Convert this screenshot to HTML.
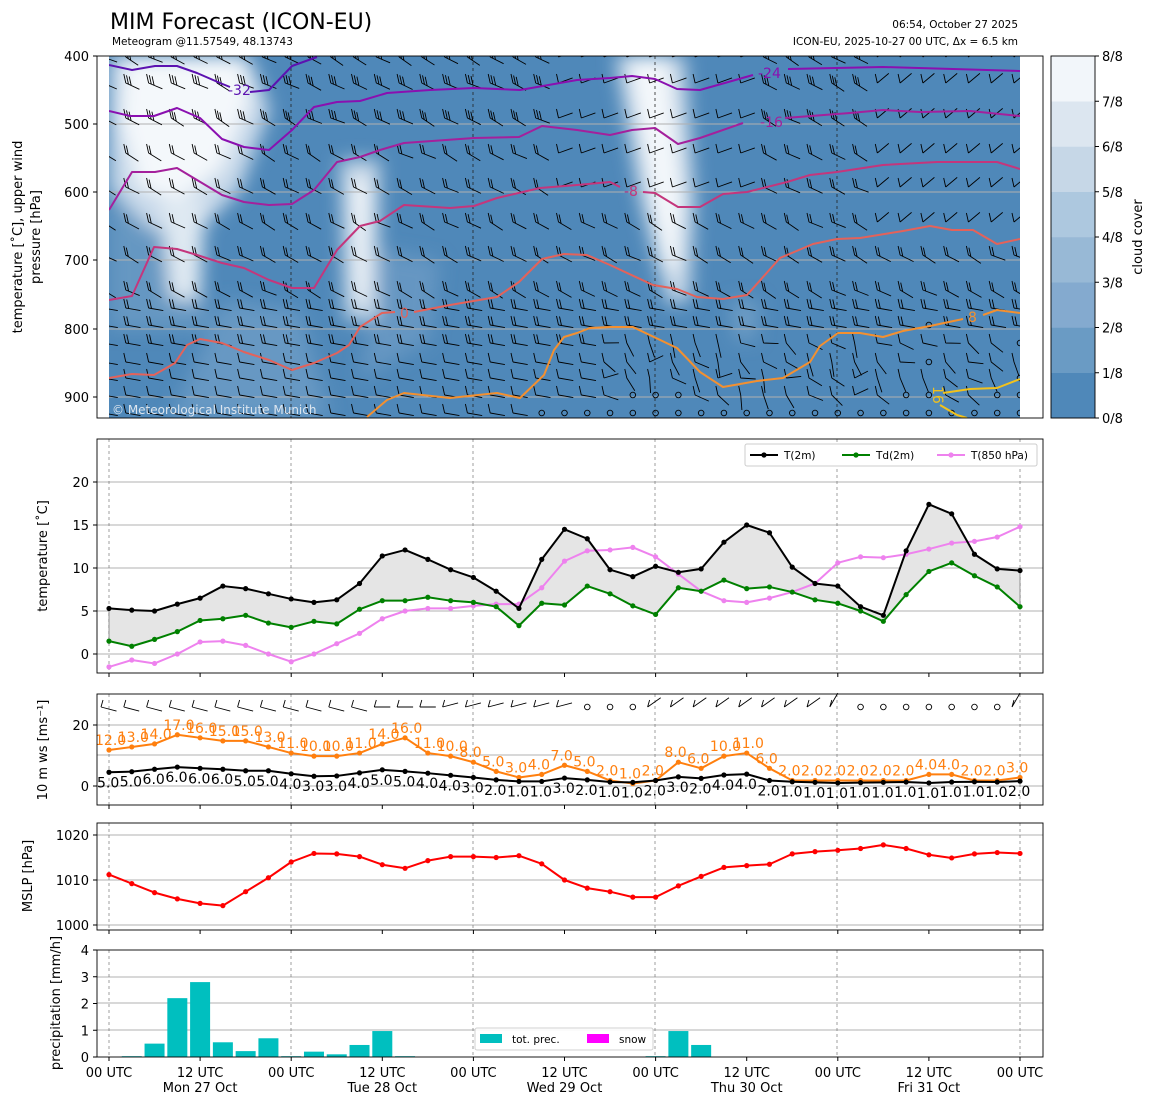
<!DOCTYPE html>
<html><head><meta charset="utf-8"><style>
html,body{margin:0;padding:0;background:#fff}
svg{display:block;font-family:"DejaVu Sans","Liberation Sans",sans-serif}
</style></head><body>
<svg id="s" width="1155" height="1105" viewBox="0 0 1155 1105" xmlns="http://www.w3.org/2000/svg">
<defs>
<filter id="bl" x="-50%" y="-50%" width="200%" height="200%"><feGaussianBlur stdDeviation="9"/></filter>
<clipPath id="cp"><rect x="109" y="56" width="911" height="362"/></clipPath>
</defs>
<g id="g"></g>
</svg>
<script>
(function(){
const NS="http://www.w3.org/2000/svg";
const G=document.getElementById('g');
function el(t,a,txt,par){const e=document.createElementNS(NS,t);for(const k in a)e.setAttribute(k,a[k]);if(txt!==undefined)e.textContent=txt;(par||G).appendChild(e);return e;}
const X=i=>109+i*22.775;
const L=0.9;
function pl(pts,col,w,par){el('polyline',{points:pts.map(p=>p.join(',')).join(' '),fill:'none',stroke:col,'stroke-width':w,'stroke-linejoin':'round'},undefined,par);}
function txt(x,y,s,o){o=o||{};const a={x:x,y:y,'font-size':o.fs||13,fill:o.c||'#000','text-anchor':o.a||'start'};if(o.tr)a.transform=o.tr;return el('text',a,s,o.par);}

txt(110,29,'MIM Forecast (ICON-EU)',{fs:22});
txt(112,45,'Meteogram @11.57549, 48.13743',{fs:10.5});
txt(1018,28,'06:54, October 27 2025',{fs:10.5,a:'end'});
txt(1018,45,'ICON-EU, 2025-10-27 00 UTC, Δx = 6.5 km',{fs:10.5,a:'end'});

const tp=el('g',{'clip-path':'url(#cp)'});
el('rect',{x:109,y:56,width:911,height:362,fill:'#4f88b9'},undefined,tp);
const cl=el('g',{filter:'url(#bl)'},undefined,tp);
el('polygon',{points:'225,300 300,310 330,418 170,418',fill:'#6d9cc5',opacity:0.8},undefined,cl);
el('polygon',{points:'380,250 440,260 430,340 360,380',fill:'#6a9ac4',opacity:0.8},undefined,cl);
el('polygon',{points:'109,200 180,240 215,330 109,330',fill:'#6b9bc4',opacity:0.8},undefined,cl);
el('polygon',{points:'109,56 250,56 270,110 240,190 200,230 150,230 109,190',fill:'#c8d9ea'},undefined,cl);
el('polygon',{points:'125,56 240,56 250,100 220,170 180,200 140,190 120,120',fill:'#f4f8fb'},undefined,cl);
el('polygon',{points:'160,200 205,200 200,300 170,300',fill:'#dfe9f2'},undefined,cl);
el('polygon',{points:'340,160 380,160 378,320 345,320',fill:'#c6d7e7'},undefined,cl);
el('polygon',{points:'352,180 368,180 366,300 356,300',fill:'#f4f8fb'},undefined,cl);
el('polygon',{points:'615,56 685,56 695,200 690,300 668,305 640,200',fill:'#c6d7e7'},undefined,cl);
el('polygon',{points:'628,56 668,56 682,200 678,270 665,270 648,180',fill:'#f4f8fb'},undefined,cl);
el('polygon',{points:'730,300 760,300 755,340 735,340',fill:'#6d9cc5'},undefined,cl);
[124,192,260,329,397].forEach(y=>el('line',{x1:97,x2:1043,y1:y,y2:y,stroke:'#b0b0b0','stroke-width':1},undefined,tp));
[291,473,655,837].forEach(x=>el('line',{x1:x,x2:x,y1:56,y2:418,stroke:'#222','stroke-width':0.8,'stroke-dasharray':'3,3'},undefined,tp));
const rows=[57,83,118,153,187,222,255,290,308,325,343,362,378,395,413];
const bg=el('g',{stroke:'#000','stroke-width':0.9,fill:'none'},undefined,tp);
function rnd(i){const x=Math.sin(i*12.9898)*43758.5453;return x-Math.floor(x);}
rows.forEach((y,r)=>{for(let i=0;i<41;i++){const x=X(i)-6;let n,ang,circ=false;
 const seed=rnd(r*57+i);
 if(r<=7){n=r<3?3:2;ang=20+seed*15;if(i>=20&&i<=28&&r<5){ang=-20;n=1}if(i>=34&&r<6){ang=-40;n=1}}
 else {n=r<11?2:1;ang=10;if(i>=22&&r>=10){ang=-30+seed*120;n=1}
  if(r==14&&i>=19)circ=true; if(i>=34&&r>=9&&seed<0.25)circ=true; if(r==13&&(i==23||i==24||i==25))circ=true;}
 if(circ){el('circle',{cx:X(i),cy:y,r:2.8},undefined,bg);continue;}
 const a=ang*Math.PI/180, len=15;
 const x2=x+len*Math.cos(a), y2=y+len*Math.sin(a);
 let d=`M${x.toFixed(1)},${y}L${x2.toFixed(1)},${y2.toFixed(1)}`;
 for(let k=0;k<n;k++){const bx=x+k*3*Math.cos(a),by=y+k*3*Math.sin(a);
   d+=`M${bx.toFixed(1)},${by.toFixed(1)}L${(bx-2).toFixed(1)},${(by-9).toFixed(1)}`;}
 el('path',{d:d},undefined,bg);
}});
pl([[109,65],[132,70],[155,66],[177,66],[197,73],[220,83],[230,87]],'#5c12b0',2,tp);
pl([[250,92],[269,90],[292,66],[317,57]],'#5c12b0',2,tp);
txt(228,95,'-32',{c:'#5c12b0',fs:14,par:tp});
pl([[109,111],[130,116],[154,116],[177,108],[200,118],[222,139],[244,147],[269,150],[292,130],[314,107],[337,102],[360,101],[387,93],[430,90],[474,88],[520,90],[577,80],[610,78],[632,76],[655,79],[677,89],[700,90],[753,75]],'#8a10b0',2,tp);
pl([[788,69],[883,67],[1020,71]],'#8a10b0',2,tp);
txt(758,78,'-24',{c:'#8a10b0',fs:14,par:tp});
pl([[109,210],[132,172],[155,172],[177,168],[197,180],[222,195],[244,202],[269,205],[292,204],[314,190],[337,162],[360,157],[380,150],[404,143],[474,138],[519,137],[542,126],[577,130],[610,135],[632,130],[655,128],[678,144],[700,138],[743,123]],'#a4209c',2,tp);
pl([[785,118],[850,113],[883,110],[920,112],[970,111],[1020,116]],'#a4209c',2,tp);
txt(760,127,'-16',{c:'#a4209c',fs:14,par:tp});
pl([[109,300],[132,296],[154,247],[177,249],[197,255],[222,263],[244,268],[269,280],[292,288],[314,288],[337,250],[360,226],[380,221],[404,205],[450,208],[474,206],[497,198],[540,188],[577,185],[610,182],[620,187]],'#c4367c',2,tp);
pl([[643,192],[655,193],[678,207],[700,207],[723,194],[747,192],[787,182],[810,175],[837,172],[883,165],[937,162],[997,162],[1020,169]],'#c4367c',2,tp);
txt(624,196,'-8',{c:'#c4367c',fs:14,par:tp});
pl([[109,378],[132,374],[154,375],[175,363],[187,345],[200,339],[222,343],[244,352],[269,360],[292,370],[314,363],[337,353],[349,345],[360,327],[382,313],[395,312]],'#e4625a',2,tp);
pl([[414,312],[450,305],[497,297],[519,282],[542,259],[564,254],[587,255],[610,265],[653,285],[677,289],[697,297],[723,299],[747,295],[780,258],[813,244],[837,239],[860,238],[903,231],[930,226],[952,230],[973,230],[997,244],[1020,239]],'#e4625a',2,tp);
txt(400,318,'0',{c:'#e4625a',fs:14,par:tp});
pl([[367,417],[387,400],[404,393],[450,398],[497,393],[520,398],[544,375],[554,350],[564,337],[577,333],[590,328],[610,327],[633,327],[677,348],[700,372],[723,387],[757,381],[783,378],[810,362],[820,346],[838,333],[860,333],[883,337],[903,331],[930,326],[963,319]],'#f39030',2,tp);
pl([[983,315],[997,310],[1020,313]],'#f39030',2,tp);
txt(968,322,'8',{c:'#f39030',fs:14,par:tp});
pl([[943,393],[970,389],[997,388],[1020,379]],'#f2c21c',2,tp);
pl([[940,405],[957,415],[967,418]],'#f2c21c',2,tp);
txt(927,392,'16',{c:'#f2c21c',fs:14,par:tp,tr:'rotate(90 933 392)'});
txt(112,414,'© Meteorological Institute Munich',{c:'#dde6ef',fs:12,par:tp});
el('rect',{x:97,y:56,width:946,height:362,fill:'none',stroke:'#000','stroke-width':L});
[[400,56],[500,124],[600,192],[700,260],[800,329],[900,397]].forEach(([v,y])=>{el('line',{x1:93,x2:97,y1:y,y2:y,stroke:'#000'});txt(89,y+5,v,{a:'end'});});
txt(0,0,'temperature [˚C], upper wind',{a:'middle',tr:'translate(22,237) rotate(-90)'});
txt(0,0,'pressure [hPa]',{a:'middle',tr:'translate(40,237) rotate(-90)'});
const cc=['#4f88b9','#6a9bc4','#84aacf','#98b9d6','#adc8df','#c6d7e7','#dce6f0','#f2f6fa'];
for(let k=0;k<8;k++){const y0=418-(k+1)*45.25;el('rect',{x:1051,y:y0,width:44,height:45.5,fill:cc[k]});}
el('rect',{x:1051,y:56,width:44,height:362,fill:'none',stroke:'#000','stroke-width':L});
for(let k=0;k<=8;k++){const y=418-k*45.25;el('line',{x1:1095,x2:1099,y1:y,y2:y,stroke:'#000'});txt(1102,y+5,k+'/8');}
txt(0,0,'cloud cover',{a:'middle',tr:'translate(1142,237) rotate(-90)'});

function panel(y0,h){
 [109,291,473,655,837,1020].forEach(x=>el('line',{x1:x,x2:x,y1:y0,y2:y0+h,stroke:'#777','stroke-width':0.7,'stroke-dasharray':'3,3'}));
}
function frame(y0,h){el('rect',{x:97,y:y0,width:946,height:h,fill:'none',stroke:'#000','stroke-width':L});
 for(let i=0;i<=10;i++){const x=109+i*91.1;el('line',{x1:x,x2:x,y1:y0+h,y2:y0+h+4,stroke:'#000'});}}
function hgrid(ys){ys.forEach(y=>el('line',{x1:97,x2:1043,y1:y,y2:y,stroke:'#b0b0b0','stroke-width':1}));}
function dots(vals,f,col){pl(vals.map((v,i)=>[X(i),f(v)]),col,2);vals.forEach((v,i)=>el('circle',{cx:X(i),cy:f(v),r:2.6,fill:col}));}

const T=[5.3,5.1,5.0,5.8,6.5,7.9,7.6,7.0,6.4,6.0,6.3,8.2,11.4,12.1,11.0,9.8,8.9,7.3,5.3,11.0,14.5,13.4,9.8,9.0,10.2,9.5,9.9,13.0,15.0,14.1,10.1,8.2,7.9,5.5,4.5,12.0,17.4,16.3,11.6,9.9,9.7];
const Td=[1.5,0.9,1.7,2.6,3.9,4.1,4.5,3.6,3.1,3.8,3.5,5.2,6.2,6.2,6.6,6.2,6.0,5.5,3.3,5.9,5.7,7.9,7.0,5.6,4.6,7.7,7.3,8.6,7.6,7.8,7.2,6.3,5.9,5.0,3.8,6.9,9.6,10.6,9.1,7.8,5.5];
const T8=[-1.5,-0.7,-1.1,0.0,1.4,1.5,1.0,0.0,-0.9,0.0,1.2,2.4,4.1,5.0,5.3,5.3,5.6,5.8,5.8,7.7,10.8,12.0,12.1,12.4,11.3,9.3,7.3,6.2,6.0,6.5,7.2,8.2,10.6,11.3,11.2,11.6,12.2,12.9,13.1,13.6,14.8];
const ty=v=>654-8.6*v;
hgrid([482,525,568,611,654]);panel(439,234);
el('polygon',{points:T.map((v,i)=>X(i)+','+ty(v)).join(' ')+' '+Td.map((v,i)=>[X(i),ty(v)]).reverse().map(p=>p.join(',')).join(' '),fill:'#e5e5e5',stroke:'#555','stroke-width':0.6});
dots(T8,ty,'#ee82ee');dots(Td,ty,'#008000');dots(T,ty,'#000');
frame(439,234);
[[0,654],[5,611],[10,568],[15,525],[20,482]].forEach(([v,y])=>{el('line',{x1:93,x2:97,y1:y,y2:y,stroke:'#000'});txt(89,y+5,v,{a:'end'});});
txt(0,0,'temperature [˚C]',{a:'middle',tr:'translate(47,556) rotate(-90)'});
el('rect',{x:745,y:444,width:292,height:22,fill:'#fff',stroke:'#ccc',rx:2});
[[750,'T(2m)','#000'],[842,'Td(2m)','#008000'],[937,'T(850 hPa)','#ee82ee']].forEach(([x,s,c])=>{el('line',{x1:x,x2:x+28,y1:455,y2:455,stroke:c,'stroke-width':2});el('circle',{cx:x+14,cy:455,r:2.6,fill:c});txt(x+34,459,s,{fs:10.5});});

const gust=[12,13,14,17,16,15,15,13,11,10,10,11,14,16,11,10,8,5,3,4,7,5,2,1,2,8,6,10,11,6,2,2,2,2,2,2,4,4,2,2,3];
const gv=gust.map(v=>v-0.2);
const ws=[4.5,4.7,5.5,6.2,5.8,5.5,5.0,5.0,4.0,3.2,3.3,4.3,5.3,4.8,4.2,3.5,2.8,2.0,1.5,1.5,2.6,2.0,1.3,1.2,1.8,3.0,2.5,3.6,3.9,1.8,1.4,1.2,1.0,1.1,1.2,1.3,1.0,1.3,1.4,1.3,1.6];
const wl=[5,5,6,6,6,6,5,5,4,3,3,4,5,5,4,4,3,2,1,1,3,2,1,1,2,3,2,4,4,2,1,1,1,1,1,1,1,1,1,1,2];
const wy=v=>786-3.05*v;
hgrid([725,755,786]);panel(694,111);
dots(gv,wy,'#ff7f0e');dots(ws,wy,'#000');
gust.forEach((v,i)=>txt(X(i)-14,wy(gv[i])-5,v.toFixed(1),{c:'#ff7f0e',fs:14}));
wl.forEach((v,i)=>txt(X(i)-12,wy(ws[i])+15,v.toFixed(1),{fs:14}));
const wb=el('g',{stroke:'#000','stroke-width':0.9,fill:'none'});
for(let i=0;i<41;i++){const x=X(i),y=707;
 if([21,22,23,33,34,35,36,37,38,39].includes(i)){el('circle',{cx:x,cy:y,r:2.8},undefined,wb);continue;}
 let a=(i<12?15:(i<15?0:(i<21?-15:(i<32?-35:-60))))*Math.PI/180;
 const x0=x-8,y0=y;
 const x2=x0+16*Math.cos(a),y2=y0+16*Math.sin(a);
 let d=`M${x0.toFixed(1)},${y0}L${x2.toFixed(1)},${y2.toFixed(1)}`;
 d+=`M${x0.toFixed(1)},${y0}L${(x0+2).toFixed(1)},${(y0-7).toFixed(1)}`;
 el('path',{d:d},undefined,wb);}
frame(694,111);
[[0,786],[20,725]].forEach(([v,y])=>{el('line',{x1:93,x2:97,y1:y,y2:y,stroke:'#000'});txt(89,y+5,v,{a:'end'});});
txt(0,0,'10 m ws [ms⁻¹]',{a:'middle',tr:'translate(47,750) rotate(-90)'});

const P=[1011.2,1009.2,1007.2,1005.8,1004.8,1004.3,1007.4,1010.5,1014.0,1015.9,1015.8,1015.2,1013.4,1012.6,1014.3,1015.2,1015.2,1015.0,1015.4,1013.6,1010.0,1008.2,1007.4,1006.2,1006.2,1008.7,1010.8,1012.8,1013.2,1013.5,1015.8,1016.3,1016.6,1017.0,1017.8,1017.0,1015.6,1014.9,1015.8,1016.1,1015.9];
const py=v=>880-4.5*(v-1010);
hgrid([835,880,925]);panel(823,107);
dots(P,py,'#ff0000');
frame(823,107);
[[1000,925],[1010,880],[1020,835]].forEach(([v,y])=>{el('line',{x1:93,x2:97,y1:y,y2:y,stroke:'#000'});txt(89,y+5,v,{a:'end'});});
txt(0,0,'MSLP [hPa]',{a:'middle',tr:'translate(32,876) rotate(-90)'});

const pr={1:0.03,2:0.5,3:2.2,4:2.8,5:0.55,6:0.22,7:0.7,8:0.03,9:0.2,10:0.1,11:0.45,12:0.97,13:0.03,24:0.03,25:0.97,26:0.45};
const ry=v=>1057-26.75*v;
hgrid([977,1003,1030]);panel(950,107);
for(const k in pr){const v=pr[k];el('rect',{x:X(+k)-10,y:ry(v),width:20,height:1057-ry(v),fill:'#00bfbf'});}
el('rect',{x:475,y:1028,width:178,height:22,fill:'#fff',stroke:'#ccc',rx:2,opacity:0.9});
el('rect',{x:480,y:1034,width:22,height:9,fill:'#00bfbf'});txt(512,1043,'tot. prec.',{fs:10.5});
el('rect',{x:587,y:1034,width:22,height:9,fill:'#ff00ff'});txt(619,1043,'snow',{fs:10.5});
frame(950,107);
[0,1,2,3,4].forEach(v=>{const y=ry(v);el('line',{x1:93,x2:97,y1:y,y2:y,stroke:'#000'});txt(89,y+5,v,{a:'end'});});
txt(0,0,'precipitation [mm/h]',{a:'middle',tr:'translate(60,1003) rotate(-90)'});
const days=['Mon 27 Oct','Tue 28 Oct','Wed 29 Oct','Thu 30 Oct','Fri 31 Oct'];
for(let i=0;i<=10;i++){const x=109+i*91.1;txt(x,1077,i%2?'12 UTC':'00 UTC',{a:'middle'});if(i%2)txt(x,1092,days[(i-1)/2],{a:'middle'});}
})();
</script>
</body></html>
